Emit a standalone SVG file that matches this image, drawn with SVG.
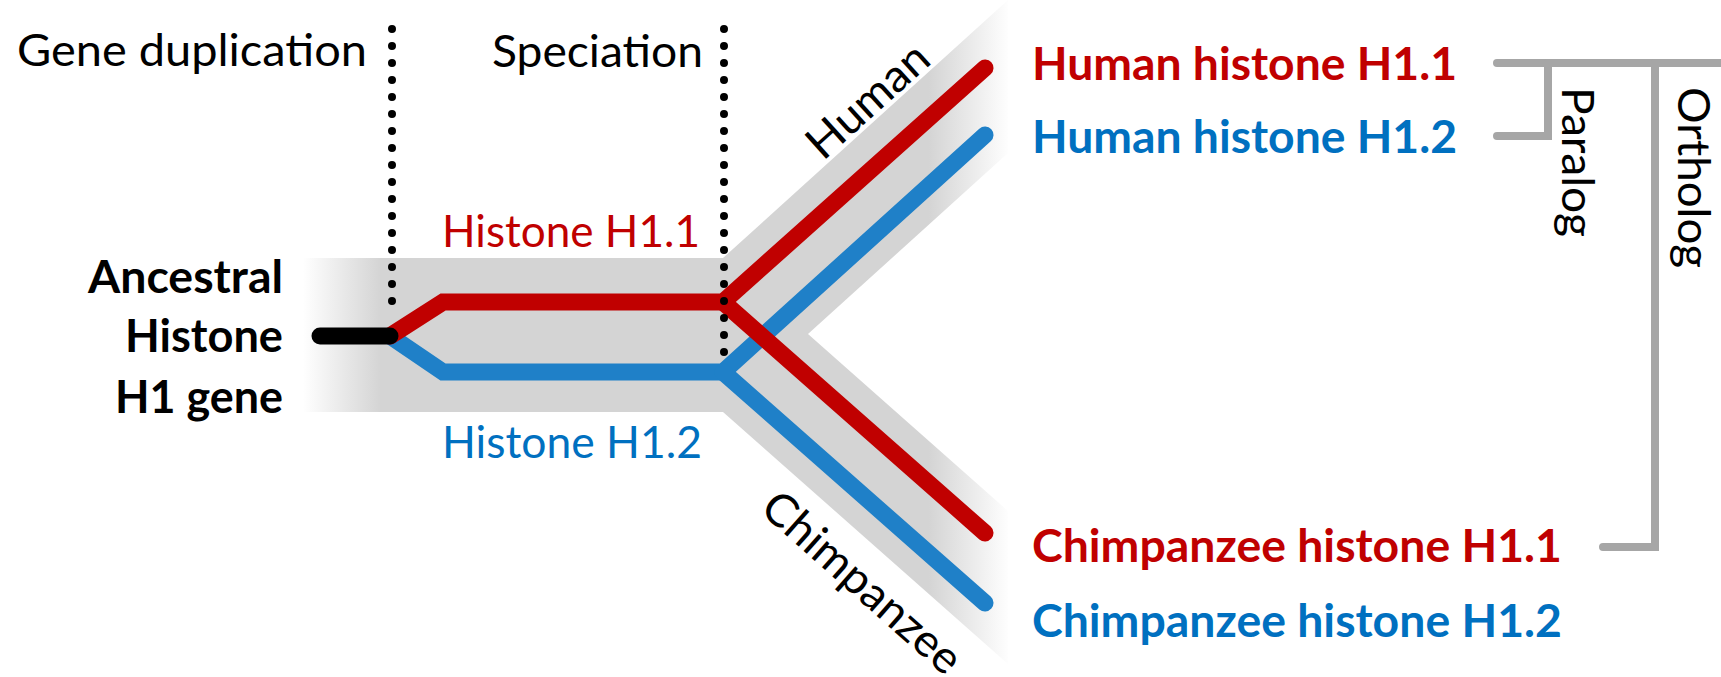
<svg xmlns="http://www.w3.org/2000/svg" width="1721" height="677" viewBox="0 0 1721 677">
<style>
text { font-family: Lato, "Open Sans", "Liberation Sans", sans-serif; font-size: 45px; fill: #000; }
.b { font-weight: bold; }
.tr { fill: #C00000; }
.tb { fill: #0070C0; }
.ln { fill: none; stroke-width: 17; stroke-linecap: round; stroke-linejoin: miter; }
.r { stroke: #C00000; }
.bl { stroke: #1F80C8; }
.dot { fill: none; stroke: #000; stroke-width: 8; stroke-linecap: round; stroke-dasharray: 0 17; }
.gr { fill: none; stroke: #A6A6A6; stroke-width: 8; stroke-linecap: round; stroke-linejoin: miter; }
</style>
<defs>
<linearGradient id="bandGrad" gradientUnits="userSpaceOnUse" x1="303" y1="0" x2="1010" y2="0">
<stop offset="0" stop-color="#FFFFFF"/>
<stop offset="0.11" stop-color="#D4D4D4"/>
<stop offset="0.885" stop-color="#D4D4D4"/>
<stop offset="1" stop-color="#FFFFFF"/>
</linearGradient>
</defs>
<rect width="1721" height="677" fill="#FFFFFF"/>
<g id="band">
<polygon points="303,258 723,258 1008,0 1008,153 808,334 1008,511 1008,664 723,412 303,412" fill="url(#bandGrad)"/>
</g>
<g id="connectors">
<path class="ln bl" d="M390 336 L443 372 L723 372 L985 135"/>
<path class="ln bl" d="M723 372 L985 603"/>
<path class="ln r" d="M390 336 L443 302 L723 302 L985 68"/>
<path class="ln r" d="M723 302 L985 533"/>
<line x1="320" y1="336" x2="390" y2="336" stroke="#000" stroke-width="17" stroke-linecap="round"/>
<line class="dot" x1="392" y1="29" x2="392" y2="318"/>
<line class="dot" x1="724" y1="29" x2="724" y2="369"/>
<path class="gr" d="M1497 63 H1730"/>
<path class="gr" d="M1548 63 V136 H1497"/>
<path class="gr" d="M1655 63 V547 H1603"/>
</g>
<g id="gene-duplication"><text x="17" y="66" textLength="350" lengthAdjust="spacingAndGlyphs">Gene duplication</text></g>
<g id="speciation"><text x="492" y="67" textLength="211" lengthAdjust="spacingAndGlyphs">Speciation</text></g>
<g id="ancestral">
<text class="b" x="88" y="293" textLength="195" lengthAdjust="spacingAndGlyphs">Ancestral</text>
<text class="b" x="125" y="352" textLength="158" lengthAdjust="spacingAndGlyphs">Histone</text>
<text class="b" x="115" y="413" textLength="168" lengthAdjust="spacingAndGlyphs">H1 gene</text>
</g>
<g id="histone-h11"><text class="tr" x="442" y="247" textLength="258" lengthAdjust="spacingAndGlyphs">Histone H1.1</text></g>
<g id="histone-h12"><text class="tb" x="442" y="458" textLength="260" lengthAdjust="spacingAndGlyphs">Histone H1.2</text></g>
<g id="human"><text transform="translate(878,112) rotate(-42)" x="-74" y="0" textLength="148" lengthAdjust="spacingAndGlyphs">Human</text></g>
<g id="chimpanzee"><text transform="translate(852,594) rotate(41.6)" x="-125" y="0" textLength="250" lengthAdjust="spacingAndGlyphs">Chimpanzee</text></g>
<g id="human-h11"><text class="b tr" x="1032" y="80" textLength="425" lengthAdjust="spacingAndGlyphs">Human histone H1.1</text></g>
<g id="human-h12"><text class="b tb" x="1032" y="153" textLength="425" lengthAdjust="spacingAndGlyphs">Human histone H1.2</text></g>
<g id="chimp-h11"><text class="b tr" x="1032" y="562" textLength="530" lengthAdjust="spacingAndGlyphs">Chimpanzee histone H1.1</text></g>
<g id="chimp-h12"><text class="b tb" x="1032" y="637" textLength="530" lengthAdjust="spacingAndGlyphs">Chimpanzee histone H1.2</text></g>
<g id="paralog"><text transform="translate(1562,87) rotate(90)" x="0" y="0" textLength="150" lengthAdjust="spacingAndGlyphs">Paralog</text></g>
<g id="ortholog"><text transform="translate(1678,87) rotate(90)" x="0" y="0" textLength="181" lengthAdjust="spacingAndGlyphs">Ortholog</text></g>
</svg>
